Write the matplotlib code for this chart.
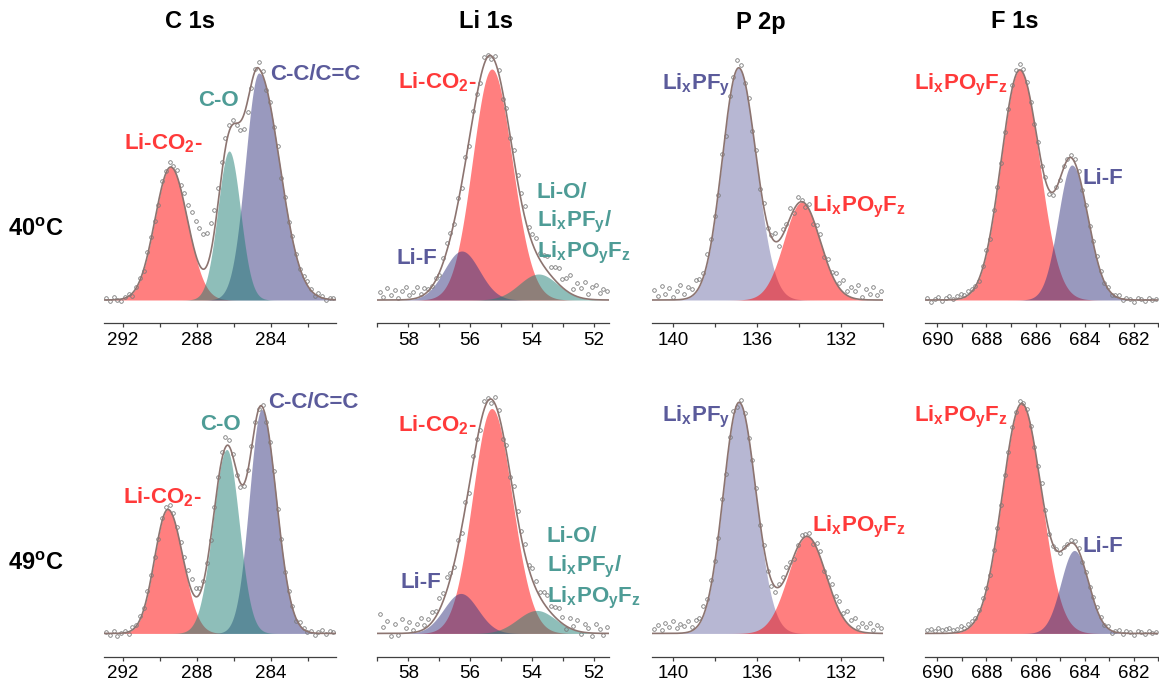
import numpy as np
import matplotlib
matplotlib.use("Agg")
import matplotlib.pyplot as plt
from matplotlib.ticker import MultipleLocator

plt.rcParams['font.family'] = ['Liberation Sans', 'DejaVu Sans']
plt.rcParams['mathtext.fontset'] = 'custom'
plt.rcParams['mathtext.rm'] = 'Liberation Sans:bold'
plt.rcParams['mathtext.it'] = 'Liberation Sans:bold'
plt.rcParams['mathtext.bf'] = 'Liberation Sans:bold'

# ---- data -------------------------------------------------------------
regions = ["C 1s", "Li 1s", "P 2p", "F 1s"]
temps = ["40$^o$C", "49$^o$C"]
xranges = [(293.0, 280.5), (59.0, 51.5), (141.0, 130.0), (690.5, 681.0)]
major_step = [4, 2, 4, 2]
minor_step = [2, 1, 2, 1]

# peak components: [temperature][component]  (split gaussians)
c1s_kind = ["red", "purple", "teal"]  # Li-CO2-, C-C/C=C, C-O
c1s_center = [[289.40, 284.65, 286.25], [289.55, 284.50, 286.38]]
c1s_height = [[133, 227, 149], [124, 224, 184]]
c1s_sig_hi = [[0.85, 0.72, 0.61], [0.72, 0.66, 0.74]]
c1s_sig_lo = [[0.90, 1.12, 0.61], [0.81, 0.80, 0.67]]

li1s_kind = ["red", "purple", "teal"]  # Li-CO2-, Li-F, Li-O/...
li1s_center = [[55.30, 56.27, 53.79], [55.30, 56.30, 53.85]]
li1s_height = [[231, 49, 26], [225, 40, 23]]
li1s_sig_hi = [[0.62, 0.57, 0.62], [0.62, 0.55, 0.62]]
li1s_sig_lo = [[0.66, 0.57, 0.62], [0.66, 0.55, 0.62]]

p2p_kind = ["lilac", "red"]  # LixPFy, LixPOyFz
p2p_center = [[136.87, 133.87], [136.85, 133.62]]
p2p_height = [[232, 98], [231, 97]]
p2p_sig_hi = [[0.78, 0.85], [0.75, 0.90]]
p2p_sig_lo = [[0.83, 0.87], [0.80, 0.90]]

f1s_kind = ["red", "purple"]  # LixPOyFz, Li-F
f1s_center = [[686.64, 684.52], [686.56, 684.42]]
f1s_height = [[230, 135], [230, 83]]
f1s_sig_hi = [[0.76, 0.56], [0.79, 0.55]]
f1s_sig_lo = [[0.80, 0.66], [0.80, 0.58]]

res_c1s = [
    [2, -1, 3, 0, -2, 1, 2, -3, 1, 3, -1, 4, 2, 0, -3, 4, 2, 5, 3, 6, 4,
     12, 18, 28, 34, 37, 35, 33, 30, 22, 16, 12, 10, 6, 4, -2, -8, -15, -12, -5, 2, 6, 4,
     -3, 2, -2, 3, -4, 1, -2, 3, 1, -1, 2, 4, 1, -2, 3, 2, -1, 1, 2],
    [1, -2, 2, -3, 0, 2, -2, 3, 1, 4, 2, 5, 3, 1, -2, 3, 4, 5, 4, 3, 5, 7, 10, 12, 9, 6,
     3, 2, -1, 3, 5, 8, 10, 6, 2, -3, -4, -2, 1, 3, 2, -1, 2, -2, 1, 3, -1, 2, -3, 1, 2,
     -2, 3, 1, -1, 2, -2, 1, 3, -1, 2, 1],
]
res_li1s = [
    [8, 3, 12, 5, 10, 2, 9, 13, 4, 7, 11, 3, 6, 2, 1, 3, -2, 5, 8, 4, -3, 6,
     -4, 5, -6, 7, 3, -5, 8, 2, -3, 6, 4, -7, 5, -2, 9, 6,
     8, 12, 5, 10, 14, 7, 11, 15, 9, 13, 16, 8, 12, 18, 6, 14, 10, 17, 5, 12, 15, 7, 11, 9],
    [19, 6, 12, -3, 9, -2, 14, 5, 11, 3, 8, 13, 4, 7, 10, 6, 12, 8, 14, 5, -4, 7,
     -5, 6, -7, 8, 4, -6, 9, 3, -4, 7, 5, -8, 6, -3, 10, 7,
     6, 10, 4, 12, 8, 5, 11, 13, 7, 10, 12, 6, -3, 10, 4, 11, -2, 8, 5, -3, 9, 4, -2, 6],
]
res_p2p = [
    [10, 4, 14, 6, 12, 3, 9, 15, 5, 11, 7, 13, 8, 4, 10, 6, 5, -3, 6, -8, 4, 2, 9, 5, -2,
     3, -4, 6, -6, 4, -3, 2, 8, -5, 6, 3, 10, -4, 7, 2, -3,
     5, -6, 4, 8, -3, 6, 2, 9, 5, 12, 4, 10, 7, 14, 3, 11, 6, 13, 5, 9],
    [4, 8, 3, 10, 6, 12, 5, 9, 7, 11, 4, 8, 6, 10, 5, 7, 3, -2, 5, -4, 3, 6, -3, 4, 2, -2,
     3, 5, -3, 2, -4, -6, -5, 3, 6, 8, 4, -3, 2, 5, 3,
     4, -3, 5, 7, -2, 4, 8, 6, 10, 5, 12, 7, 11, 4, 9, 6, 10, 3, 8, 5],
]
res_f1s = [
    [2, -2, 1, 3, -1, 2, 4, 1, 3, 5, 2, 4, 3, 1, -2, 2, 4, -3, 3, 1, -2, 2, 0, 3, 5, 6, 4,
     2, -1, -3, 2, -2, 3, -4, -3, 1, -2, 2, 1, 3, 4, 2, -2, 1, -1, 2, 3, 1, -1, 2, -2, 1,
     3, -1, 2, 1, -2, 2, 1, -1, 2, 0, 1],
    [3, 4, 2, 5, 3, 4, 5, 3, 4, 6, 3, 5, 4, 2, 3, 5, 2, -2, 3, 1, -2, 2, 0, 3, 2, 4, 1, 2,
     -1, -2, 2, 8, 3, -3, -2, 1, -2, 2, 1, 3, 4, 2, -2, 1, -1, 2, 3, 1, -1, 2, -2, 1, 3,
     -1, 2, 1, -2, 2, 1, -1, 2, 0, 1],
]

kinds = [c1s_kind, li1s_kind, p2p_kind, f1s_kind]
centers = [c1s_center, li1s_center, p2p_center, f1s_center]
heights = [c1s_height, li1s_height, p2p_height, f1s_height]
sig_his = [c1s_sig_hi, li1s_sig_hi, p2p_sig_hi, f1s_sig_hi]
sig_los = [c1s_sig_lo, li1s_sig_lo, p2p_sig_lo, f1s_sig_lo]
residuals = [res_c1s, res_li1s, res_p2p, res_f1s]

# ---- style ------------------------------------------------------------
fill_col = {"red": "#FF0000", "teal": "#1F7F75", "purple": "#35357F", "lilac": "#7171A9"}
text_col = {"red": "#FF3A3A", "teal": "#4E9C96", "purple": "#5B5B9B"}


def peak(x, c, h, s_hi, s_lo):
    s = np.where(x >= c, s_hi, s_lo)
    return h * np.exp(-0.5 * ((x - c) / s) ** 2)


W, H = 1159, 681
fig = plt.figure(figsize=(W / 100, H / 100), dpi=100)

lefts = [104, 377.3, 651.7, 925]
rights = [335.7, 609.3, 883.3, 1158.3]
tops = [45, 378.5]
bottoms = [323.3, 656.7]

for r in range(2):
    for c in range(4):
        ax = fig.add_axes([lefts[c] / W, 1 - bottoms[r] / H,
                           (rights[c] - lefts[c]) / W, (bottoms[r] - tops[r]) / H])
        hi, lo = xranges[c]
        x = np.linspace(hi, lo, 800)
        env = np.zeros_like(x)
        for k in range(len(kinds[c])):
            y = peak(x, centers[c][r][k], heights[c][r][k], sig_his[c][r][k], sig_los[c][r][k])
            env += y
            ax.fill_between(x, 0, y, color=fill_col[kinds[c][k]], alpha=0.5, lw=0)
        res = np.array(residuals[c][r], dtype=float)
        span = hi - lo
        xp = np.linspace(hi - 0.01 * span, lo + 0.01 * span, len(res))
        envp = np.zeros_like(xp)
        for k in range(len(kinds[c])):
            envp += peak(xp, centers[c][r][k], heights[c][r][k], sig_his[c][r][k], sig_los[c][r][k])
        ax.plot(xp, envp + res, 'o', ms=2.6, mfc='none', mec='#7a7a7a', mew=0.6)
        ax.plot(x, env, color='#8C7470', lw=1.2)

        ax.set_xlim(hi, lo)
        ax.set_ylim(-23.3, 255)
        for s in ['top', 'right', 'left']:
            ax.spines[s].set_visible(False)
        ax.spines['bottom'].set_color('#404040')
        ax.spines['bottom'].set_linewidth(0.9)
        ax.set_yticks([])
        ax.xaxis.set_major_locator(MultipleLocator(major_step[c]))
        ax.xaxis.set_minor_locator(MultipleLocator(minor_step[c]))
        ax.tick_params(axis='x', which='both', direction='out', length=3,
                       width=0.9, color='#404040', labelsize=13.5, pad=3)
        ax.patch.set_alpha(0)


def label(txt, col, x, y):
    fig.text(x / W, 1 - y / H, txt, color=text_col[col], fontsize=16,
             fontweight='bold', ha='left', va='center')


# row 1 labels
label("Li-CO$_2$-", "red", 124, 143)
label("C-O", "teal", 198, 100)
label("C-C/C=C", "purple", 270, 75)
label("Li-CO$_2$-", "red", 398, 82)
label("Li-F", "purple", 396, 258)
label("Li-O/", "teal", 537, 192)
label("Li$_x$PF$_y$/", "teal", 537, 222)
label("Li$_x$PO$_y$F$_z$", "teal", 537, 253)
label("Li$_x$PF$_y$", "purple", 662, 85)
label("Li$_x$PO$_y$F$_z$", "red", 812, 207)
label("Li$_x$PO$_y$F$_z$", "red", 914, 85)
label("Li-F", "purple", 1083, 178)
# row 2 labels
label("Li-CO$_2$-", "red", 123, 497)
label("C-O", "teal", 200, 425)
label("C-C/C=C", "purple", 268, 402)
label("Li-CO$_2$-", "red", 398, 425)
label("Li-F", "purple", 400, 582)
label("Li-O/", "teal", 547, 537)
label("Li$_x$PF$_y$/", "teal", 547, 567)
label("Li$_x$PO$_y$F$_z$", "teal", 547, 598)
label("Li$_x$PF$_y$", "purple", 662, 417)
label("Li$_x$PO$_y$F$_z$", "red", 812, 527)
label("Li$_x$PO$_y$F$_z$", "red", 914, 417)
label("Li-F", "purple", 1083, 547)

title_x = [190, 486, 761, 1015]
for c in range(4):
    fig.text(title_x[c] / W, 1 - 22 / H, regions[c], fontsize=17, fontweight='bold',
             ha='center', va='center')
for r, yy in enumerate([230, 563]):
    fig.text(8 / W, 1 - yy / H, temps[r], fontsize=17, fontweight='bold',
             ha='left', va='center')

fig.savefig("out.png", dpi=100)
